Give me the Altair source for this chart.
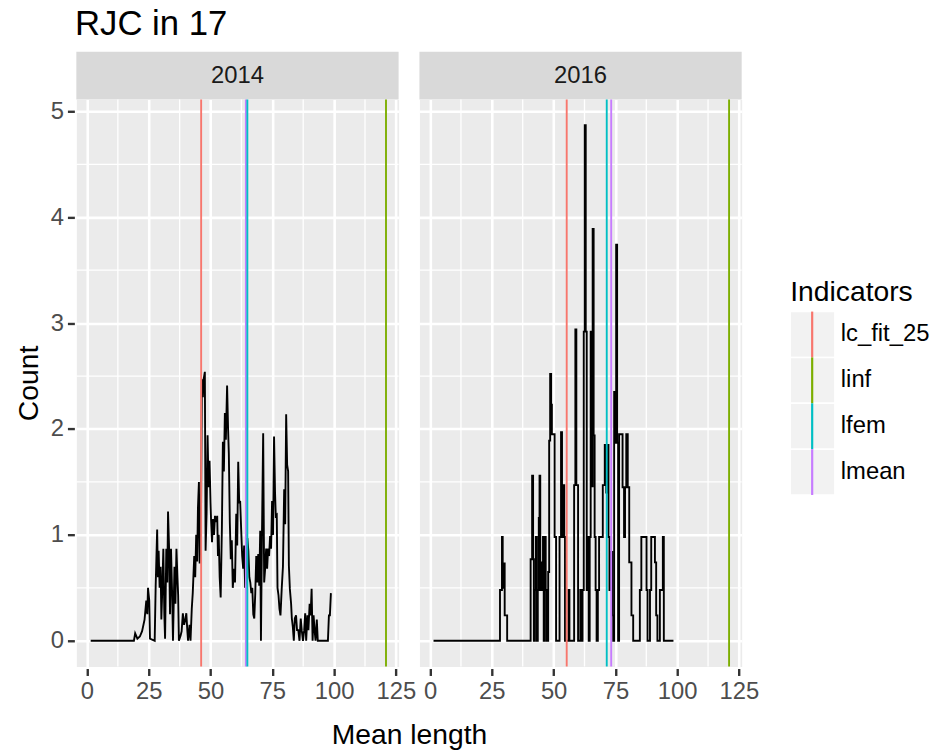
import altair as alt
import pandas as pd

# ---- data -------------------------------------------------------------
years = ["2014", "2016"]

len_2014 = [1.5, 19.0, 19.5, 20.4, 21.4, 22.3, 23.3, 24.0, 24.4, 24.7, 25.2, 25.5, 27.4, 27.8,
            28.4, 28.7, 29.0, 29.4, 29.8, 30.1, 30.5, 30.9, 31.3, 31.6, 32.1, 32.5, 32.8, 33.2,
            33.6, 34.0, 34.5, 34.8, 35.4, 35.8, 36.2, 36.6, 36.9, 37.2, 37.9, 38.3, 38.8, 39.3,
            39.8, 40.2, 40.6, 40.9, 41.5, 41.9, 42.4, 42.8, 43.4, 43.8, 44.2, 44.6, 44.9, 45.3,
            45.6, 46.1, 46.5, 46.9, 47.2, 47.7, 48.0, 48.4, 48.8, 49.2, 49.6, 50.0, 50.2, 50.6,
            51.0, 51.4, 51.8, 52.3, 52.7, 53.0, 53.3, 53.7, 54.1, 54.6, 55.0, 55.4, 55.8, 56.2,
            56.7, 57.1, 57.4, 57.8, 58.2, 58.6, 59.0, 59.5, 59.9, 60.4, 60.8, 61.2, 61.6, 62.0,
            62.4, 62.8, 63.2, 63.6, 64.0, 64.4, 64.9, 65.3, 65.7, 66.1, 66.5, 66.9, 67.3, 67.7,
            68.1, 68.5, 68.9, 69.3, 69.7, 70.1, 70.4, 70.8, 71.3, 71.7, 72.1, 72.5, 72.9, 73.3,
            73.7, 74.1, 74.5, 74.9, 75.3, 75.7, 76.1, 76.4, 76.8, 77.1, 77.5, 77.9, 78.3, 78.8,
            79.3, 79.8, 80.2, 80.6, 81.0, 81.4, 81.7, 82.1, 82.6, 82.9, 83.3, 83.7, 84.1, 84.6,
            85.0, 85.5, 86.0, 86.5, 86.9, 87.4, 87.9, 88.3, 88.7, 89.2, 89.6, 90.1, 90.5, 90.9,
            91.3, 91.7, 92.1, 92.5, 93.0, 93.4, 97.5, 97.9, 98.3, 98.7]
cnt_2014 = [0.0, 0.0, 0.07, 0.02, 0.04, 0.09, 0.2, 0.38, 0.25, 0.5, 0.38, 0.02, 0.0, 0.52,
            1.05, 0.6, 0.85, 0.5, 0.7, 0.2, 0.5, 0.87, 0.25, 0.02, 0.87, 0.55, 1.22, 0.9,
            0.25, 0.87, 0.4, 0.0, 0.7, 0.35, 0.87, 0.6, 0.43, 0.0, 0.05, 0.09, 0.26, 0.15,
            0.2, 0.26, 0.1, 0.0, 0.15, 0.0, 0.3, 0.45, 0.8, 0.6, 1.0, 0.75, 1.25, 1.5,
            0.73, 1.0, 2.47, 2.3, 2.47, 2.54, 0.85, 1.2, 1.94, 1.45, 1.7, 1.3, 1.15, 0.93,
            1.15, 1.0, 1.18, 1.12, 1.18, 0.8, 1.0, 0.6, 0.41, 1.07, 1.88, 1.6, 2.15, 1.9,
            2.41, 2.0, 1.77, 1.12, 0.77, 0.95, 0.5, 0.68, 0.55, 1.2, 0.9, 1.69, 1.3, 1.32,
            1.05, 0.8, 0.68, 0.9, 0.5, 0.55, 0.97, 0.85, 0.6, 0.55, 0.45, 0.5, 0.25, 0.21,
            0.45, 0.8, 0.55, 0.82, 0.52, 1.04, 0.0, 0.98, 1.96, 0.55, 0.68, 0.87, 0.68, 0.87,
            0.8, 0.99, 0.87, 1.32, 1.0, 1.93, 1.4, 1.18, 1.19, 0.5, 0.43, 0.3, 0.24, 0.49,
            0.7, 1.43, 1.1, 2.14, 1.66, 1.6, 0.71, 0.49, 0.35, 0.21, 0.13, 0.0, 0.21, 0.24,
            0.1, 0.1, 0.0, 0.21, 0.1, 0.0, 0.1, 0.26, 0.0, 0.24, 0.1, 0.35, 0.24, 0.49,
            0.0, 0.24, 0.1, 0.0, 0.2, 0.0, 0.0, 0.24, 0.24, 0.45]

len_2016 = [1.4, 28.3, 28.3, 29.1, 29.1, 29.4, 29.4, 29.7, 29.7, 29.9, 29.9, 30.2, 30.2, 31.2, 31.2,
            40.7, 40.7, 41.3, 41.3, 41.7, 41.7, 42.0, 42.0, 42.4, 42.4, 42.8, 42.8, 43.2, 43.2,
            43.6, 43.6, 44.0, 44.0, 44.3, 44.3, 44.6, 44.6, 44.9, 44.9, 45.3, 45.3, 45.7, 45.7,
            46.0, 46.0, 46.4, 46.4, 46.8, 46.8, 47.2, 47.2, 47.8, 47.8, 48.2, 48.2, 48.6, 48.6,
            49.0, 49.0, 49.3, 49.3, 50.4, 50.4, 51.0, 51.0, 52.4, 52.4, 53.0, 53.0, 53.4, 53.4,
            53.7, 53.7, 54.0, 54.0, 54.3, 54.3, 54.6, 54.6, 56.0, 56.0, 56.4, 56.4, 58.3, 58.3,
            58.8, 58.8, 59.2, 59.2, 59.9, 59.9, 60.8, 60.8, 61.3, 61.3, 61.7, 61.7, 62.2, 62.2,
            62.6, 62.6, 63.0, 63.0, 63.4, 63.4, 63.8, 63.8, 64.2, 64.2, 64.6, 64.6, 65.0, 65.0,
            65.4, 65.4, 65.8, 65.8, 66.2, 66.2, 66.6, 66.6, 67.0, 67.0, 67.4, 67.4, 67.9, 67.9,
            68.4, 68.4, 69.9, 69.9, 70.7, 70.7, 71.3, 71.3, 71.8, 71.8, 72.2, 72.2, 72.6, 72.6,
            73.2, 73.2, 73.7, 73.7, 74.1, 74.1, 74.5, 74.5, 74.9, 74.9, 75.3, 75.3, 75.7, 75.7,
            76.1, 76.1, 76.5, 76.5, 77.9, 77.9, 78.5, 78.5, 78.9, 78.9, 79.4, 79.4, 80.0, 80.0,
            80.6, 80.6, 81.5, 81.5, 82.2, 82.2, 84.9, 84.9, 85.5, 85.5, 87.6, 87.6, 88.0, 88.0,
            89.0, 89.0, 89.5, 89.5, 91.0, 91.0, 91.5, 91.5, 92.0, 92.0, 93.0, 93.0, 94.2, 94.2,
            94.6, 94.6, 98.5]
cnt_2016 = [0.0, 0.0, 0.48, 0.48, 0.98, 0.98, 0.73, 0.73, 0.5, 0.5, 0.73, 0.73, 0.24, 0.24, 0.0,
            0.0, 0.77, 0.77, 1.56, 1.56, 0.77, 0.77, 0.0, 0.0, 0.48, 0.48, 0.98, 0.98, 0.0,
            0.0, 0.48, 0.48, 1.16, 1.16, 1.56, 1.56, 0.48, 0.48, 0.74, 0.74, 0.48, 0.48, 0.98,
            0.98, 0.0, 0.0, 0.98, 0.98, 0.48, 0.48, 0.0, 0.0, 0.65, 0.65, 1.89, 1.89, 2.52,
            2.52, 2.23, 2.23, 1.95, 1.95, 0.98, 0.98, 0.0, 0.0, 0.98, 0.98, 1.97, 1.97, 1.47,
            1.47, 0.98, 0.98, 1.47, 1.47, 0.98, 0.98, 0.0, 0.0, 0.48, 0.48, 0.0, 0.0, 1.47,
            1.47, 2.94, 2.94, 1.47, 1.47, 0.0, 0.0, 0.48, 0.48, 0.0, 0.0, 0.48, 0.48, 2.92,
            2.92, 4.87, 4.87, 2.92, 2.92, 0.48, 0.48, 0.98, 0.98, 0.0, 0.0, 0.98, 0.98, 2.92,
            2.92, 1.46, 1.46, 3.89, 3.89, 1.94, 1.94, 0.98, 0.98, 0.48, 0.48, 0.0, 0.0, 0.48,
            0.48, 0.98, 0.98, 1.47, 1.47, 1.85, 1.85, 1.4, 1.4, 1.85, 1.85, 0.98, 0.98, 0.48,
            0.48, 0.84, 0.84, 0.24, 0.24, 0.0, 0.0, 2.35, 2.35, 1.87, 1.87, 3.74, 3.74, 1.87,
            1.87, 0.0, 0.0, 1.95, 1.95, 1.45, 1.45, 0.98, 0.98, 1.45, 1.45, 1.95, 1.95, 1.45,
            1.45, 0.74, 0.74, 0.24, 0.24, 0.0, 0.0, 0.48, 0.48, 0.98, 0.98, 0.48, 0.48, 0.0,
            0.0, 0.48, 0.48, 0.98, 0.98, 0.74, 0.74, 0.24, 0.24, 0.0, 0.0, 0.48, 0.48, 0.98,
            0.98, 0.0, 0.0]

indicators = ["lc_fit_25", "linf", "lfem", "lmean"]
ind_colors = ["#F8766D", "#7CAE00", "#00BFC4", "#C77CFF"]
ind_2014 = [46.2, 121.0, 64.9, 64.3]
ind_2016 = [55.3, 121.0, 71.5, 73.3]
# painting order of the indicator lines (lfem ends up on top of lmean)
draw_order = [0, 1, 3, 2]

x_ticks = [0, 25, 50, 75, 100, 125]
x_minor = [12.5, 37.5, 62.5, 87.5, 112.5]
y_ticks = [0, 1, 2, 3, 4, 5]
y_minor = [0.5, 1.5, 2.5, 3.5, 4.5]

# ---- long table for the faceted layers ---------------------------------
rows = []
for yr, xs, ys, inds in [("2014", len_2014, cnt_2014, ind_2014),
                         ("2016", len_2016, cnt_2016, ind_2016)]:
    for i, (a, b) in enumerate(zip(xs, ys)):
        rows.append({"year": yr, "kind": "line", "x": a, "y": b, "i": i})
    for k in draw_order:
        rows.append({"year": yr, "kind": "ind", "x": inds[k], "name": indicators[k]})
    for v in x_minor:
        rows.append({"year": yr, "kind": "vgrid", "x": v})
    for v in y_minor:
        rows.append({"year": yr, "kind": "hgrid", "y": v})
    rows.append({"year": yr, "kind": "strip"})
df = pd.DataFrame(rows)

FONT = "Liberation Sans"
PW, PH = 325, 572
STRIP_H = 48

x_scale = alt.Scale(domain=[-4.3, 126.1], nice=False, zero=False)
y_scale = alt.Scale(domain=[-0.2435, 5.1135], nice=False, zero=False)
x_axis = alt.Axis(values=x_ticks, title=None, grid=True)
y_axis = alt.Axis(values=y_ticks, title="Count", grid=True)

x_enc = alt.X("x:Q", scale=x_scale, axis=x_axis)
y_enc = alt.Y("y:Q", scale=y_scale, axis=y_axis)

base = alt.Chart().properties(width=PW, height=PH)

strip_bg = base.transform_filter(alt.datum.kind == "strip").mark_rect(
    fill="#D9D9D9").encode(x=alt.value(0), x2=alt.value(PW),
                           y=alt.value(-STRIP_H), y2=alt.value(0))
strip_txt = base.transform_filter(alt.datum.kind == "strip").mark_text(
    fontSize=24, color="#1A1A1A", font=FONT, baseline="middle").encode(
    text="year:N", x=alt.value(PW / 2), y=alt.value(-STRIP_H / 2))

vgrid = base.transform_filter(alt.datum.kind == "vgrid").mark_rule(
    color="white", strokeWidth=1.3).encode(x=x_enc)
hgrid = base.transform_filter(alt.datum.kind == "hgrid").mark_rule(
    color="white", strokeWidth=1.3).encode(y=y_enc)

line = base.transform_filter(alt.datum.kind == "line").mark_line(
    color="black", strokeWidth=1.9).encode(x=x_enc, y=y_enc, order="i:Q")

rules = base.transform_filter(alt.datum.kind == "ind").mark_rule(
    strokeWidth=1.9).encode(
    x=x_enc,
    color=alt.Color("name:N", scale=alt.Scale(domain=indicators, range=ind_colors),
                    legend=None))

panels = alt.layer(strip_bg, strip_txt, vgrid, hgrid, line, rules).facet(
    column=alt.Column("year:N", header=alt.Header(
        labels=False, title="Mean length", titleOrient="bottom",
        titleFontSize=28.5, titleFont=FONT, titleFontWeight="normal",
        titleColor="black", titlePadding=8)),
    data=df, spacing=17)

# ---- hand-built legend -------------------------------------------------
leg_df = pd.DataFrame({"label": indicators})
STEP = 46.25
LEG_H = PH
LEG_TOP = 214
y_leg = alt.Y("label:N", sort=indicators, axis=None,
              scale=alt.Scale(paddingInner=0, paddingOuter=0,
                              range=[LEG_TOP, LEG_TOP + 4 * STEP]))
leg_base = alt.Chart(leg_df).properties(width=148, height=LEG_H)
boxes = leg_base.mark_rect(fill="#F2F2F2", stroke="white", strokeWidth=1.5).encode(
    x=alt.value(0), x2=alt.value(45), y=y_leg)
keys = leg_base.mark_rect().encode(
    x=alt.value(21), x2=alt.value(23.2), y=y_leg,
    color=alt.Color("label:N", scale=alt.Scale(domain=indicators, range=ind_colors),
                    legend=None))
labels = leg_base.mark_text(align="left", baseline="middle", fontSize=24,
                            font=FONT, color="black").encode(
    x=alt.value(51), y=y_leg, text="label:N")
leg_title = alt.Chart(pd.DataFrame({"t": ["Indicators"]})).mark_text(
    align="left", baseline="alphabetic", fontSize=28.5, font=FONT, color="black").encode(
    x=alt.value(0), y=alt.value(LEG_TOP - 11), text="t:N")
legend = alt.layer(boxes, keys, labels, leg_title).properties(
    view=alt.ViewBackground(fill="white", stroke="transparent"))

chart = alt.hconcat(panels, legend, spacing=29).properties(
    title=alt.TitleParams("RJC in 17", anchor="start", fontSize=35, font=FONT,
                          fontWeight="normal", color="black", offset=9, dx=61),
    padding={"left": 14, "top": 4, "right": 0, "bottom": 5},
).configure(font=FONT).configure_view(
    fill="#EBEBEB", stroke="transparent"
).configure_axis(
    domain=False, gridColor="white", gridWidth=2.6, tickColor="#333333",
    tickWidth=2.4, tickSize=7, labelFontSize=24, labelColor="#4D4D4D",
    labelFont=FONT, titleFont=FONT, titleFontSize=28.5, titleFontWeight="normal",
    titleColor="black", labelPadding=4, titlePadding=7
)

chart.save("out.html", embed_options={"renderer": "svg", "actions": False})
